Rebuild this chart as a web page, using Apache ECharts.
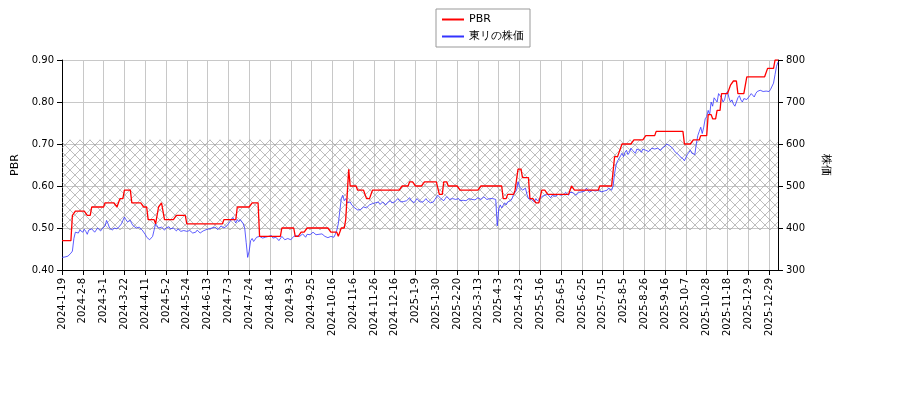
<!DOCTYPE html>
<html><head><meta charset="utf-8">
<script src="https://cdn.jsdelivr.net/npm/echarts@6/dist/echarts.min.js"></script>
<style>body{margin:0}#c{width:900px;height:400px}</style></head>
<body><div id="c"></div>
<script>
const tickLabels=["2024-1-19","2024-2-8","2024-3-1","2024-3-22","2024-4-11","2024-5-2","2024-5-24","2024-6-13","2024-7-3","2024-7-24","2024-8-14","2024-9-3","2024-9-25","2024-10-16","2024-11-6","2024-11-26","2024-12-16","2025-1-9","2025-1-30","2025-2-20","2025-3-13","2025-4-3","2025-4-23","2025-5-16","2025-6-5","2025-6-25","2025-7-15","2025-8-5","2025-8-26","2025-9-16","2025-10-7","2025-10-28","2025-11-18","2025-12-9","2025-12-29"];
const price=[
330,330,331,332,333,336,340,345,375,390,392,388,395,393,
390,397,392,385,395,392,398,396,390,395,400,397,393,398,
395,405,418,410,400,398,395,400,403,398,402,405,410,418,
426,420,415,412,418,410,405,402,400,398,402,398,395,392,
385,378,375,372,372,380,395,410,405,400,398,402,399,395,
400,397,403,398,395,400,397,393,398,395,392,396,394,398,
392,390,394,390,388,392,390,395,392,388,390,393,395,396,
395,398,397,400,398,402,400,396,400,405,402,400,403,405,
410,415,420,425,418,412,420,415,420,418,410,400,365,330,
345,370,375,368,372,378,375,380,383,376,380,378,375,380,
378,382,376,372,378,375,370,374,380,377,372,370,375,373,
372,376,380,377,382,385,380,383,386,382,378,385,388,384,
387,390,386,384,388,385,383,386,384,380,378,377,373,380,
382,378,385,395,410,440,470,478,465,470,460,458,462,455,
452,448,445,443,446,444,448,450,452,448,450,455,452,458,
455,460,458,462,456,459,462,458,455,460,462,465,460,458,
462,465,470,466,462,458,463,467,465,468,472,466,462,460,
465,470,468,462,458,462,466,470,465,463,460,458,462,468,
472,478,475,470,468,465,470,475,472,468,466,470,472,468,
466,470,465,462,466,468,465,468,470,472,468,465,467,470,
472,470,468,472,474,470,468,472,470,466,470,472,468,405,
445,455,448,452,460,455,462,458,465,470,480,478,490,510,
498,502,490,488,495,480,470,472,468,465,462,470,465,468,
470,475,472,478,475,480,476,472,478,482,475,478,480,476,
478,482,480,485,482,478,485,482,484,480,478,482,485,483,
486,490,488,495,492,485,488,490,486,488,484,490,488,486,
490,488,492,490,495,492,490,500,530,550,560,565,572,578,
570,580,585,575,580,590,585,582,578,588,592,585,580,588,
590,585,588,582,586,590,592,588,584,590,588,585,590,592,
595,600,598,596,594,590,585,580,578,575,570,568,565,560,
568,575,580,585,578,582,575,600,620,630,640,625,640,660,
665,680,670,700,690,710,705,700,720,715,710,700,705,720,
725,710,700,705,695,690,700,710,715,705,700,708,712,706,
710,715,720,718,712,720,725,722,728,730,725,722,726,728,
725,730,732,745,765,785,795];
// PBR steps: start index and value held until next step
const pbrStart=[0,7,9,17,20,29,37,39,42,47,55,58,63,65,67,69,77,84,109,118,128,133,148,157,161,165,181,186,188,191,193,194,199,205,209,229,234,238,244,254,257,260,268,282,297,300,305,307,310,315,319,323,327,343,345,362,372,375,377,385,393,400,419,425,430,435,438,441,444,450,452,455,461,475,480];
const pbrValue=[0.47,0.53,0.54,0.53,0.55,0.56,0.55,0.57,0.59,0.56,0.55,0.52,0.51,0.55,0.56,0.52,0.53,0.51,0.52,0.55,0.56,0.48,0.50,0.48,0.49,0.50,0.49,0.48,0.50,0.52,0.64,0.60,0.59,0.57,0.59,0.60,0.61,0.60,0.61,0.58,0.61,0.60,0.59,0.60,0.57,0.58,0.59,0.64,0.62,0.57,0.56,0.59,0.58,0.60,0.59,0.60,0.67,0.68,0.70,0.71,0.72,0.73,0.70,0.71,0.72,0.77,0.76,0.78,0.82,0.84,0.85,0.82,0.86,0.88,0.90];
const bandLow=0.495, bandHigh=0.71;

const n=price.length;
const dates=[];{let d=new Date(2024,0,19);while(dates.length<n){const w=d.getDay();if(w>0&&w<6)dates.push(d.getFullYear()+'-'+(d.getMonth()+1)+'-'+d.getDate());d.setDate(d.getDate()+1);}}
const pbr=[];{let k=0;for(let i=0;i<n;i++){while(k+1<pbrStart.length&&pbrStart[k+1]<=i)k++;pbr.push(pbrValue[k]);}}

const cv=document.createElement('canvas');cv.width=10;cv.height=10;
const g=cv.getContext('2d');g.strokeStyle='#999';g.lineWidth=0.8;
g.beginPath();g.moveTo(0,0);g.lineTo(10,10);g.moveTo(10,0);g.lineTo(0,10);g.stroke();

const ch=echarts.init(document.getElementById('c'));
const font='DejaVu Sans';
ch.setOption({
 animation:false,textStyle:{fontFamily:font},
 legend:{orient:'vertical',left:436,top:9,itemWidth:22,itemHeight:2,itemGap:6,padding:[5,6],
  borderColor:'#999',borderWidth:1,borderRadius:0,textStyle:{fontSize:11,color:'#000'},
  data:[{name:'PBR',icon:'rect'},{name:'東リの株価',icon:'rect'}]},
 grid:{left:62,right:122,top:60,bottom:130},
 xAxis:{type:'category',data:dates,boundaryGap:false,
  axisLine:{lineStyle:{color:'#000'}},
  axisTick:{interval:13,lineStyle:{color:'#000'}},
  splitLine:{show:true,interval:13,lineStyle:{color:'#c8c8c8'}},
  axisLabel:{interval:13,rotate:90,fontSize:10,color:'#000',formatter:(v,i)=>tickLabels[Math.round(i/14)]||''}},
 yAxis:[{type:'value',min:0.4,max:0.9,interval:0.1,name:'PBR',nameLocation:'middle',nameGap:36,nameTextStyle:{fontSize:11,color:'#000'},
   axisLine:{show:true,lineStyle:{color:'#000'}},axisTick:{show:true},
   axisLabel:{fontSize:10,color:'#000',formatter:v=>v.toFixed(2)},splitLine:{lineStyle:{color:'#c8c8c8'}}},
  {type:'value',min:300,max:800,interval:100,name:'株価',nameLocation:'middle',nameGap:42,nameRotate:-90,nameTextStyle:{fontSize:11,color:'#000'},
   axisLine:{show:true,lineStyle:{color:'#000'}},axisTick:{show:true},
   axisLabel:{fontSize:10,color:'#000'},splitLine:{show:false}}],
 series:[
  {name:'PBR',type:'line',data:pbr,yAxisIndex:0,symbol:'none',lineStyle:{color:'#ff0000',width:1.3},itemStyle:{color:'#ff0000'},z:3,
   markArea:{silent:true,itemStyle:{color:{image:cv,repeat:'repeat'},opacity:0.8},data:[[{yAxis:bandLow},{yAxis:bandHigh}]]}},
  {name:'東リの株価',type:'line',data:price,yAxisIndex:1,symbol:'none',lineStyle:{color:'#3333ff',width:0.8},itemStyle:{color:'#3333ff'},z:2}
 ]
});
</script></body></html>
